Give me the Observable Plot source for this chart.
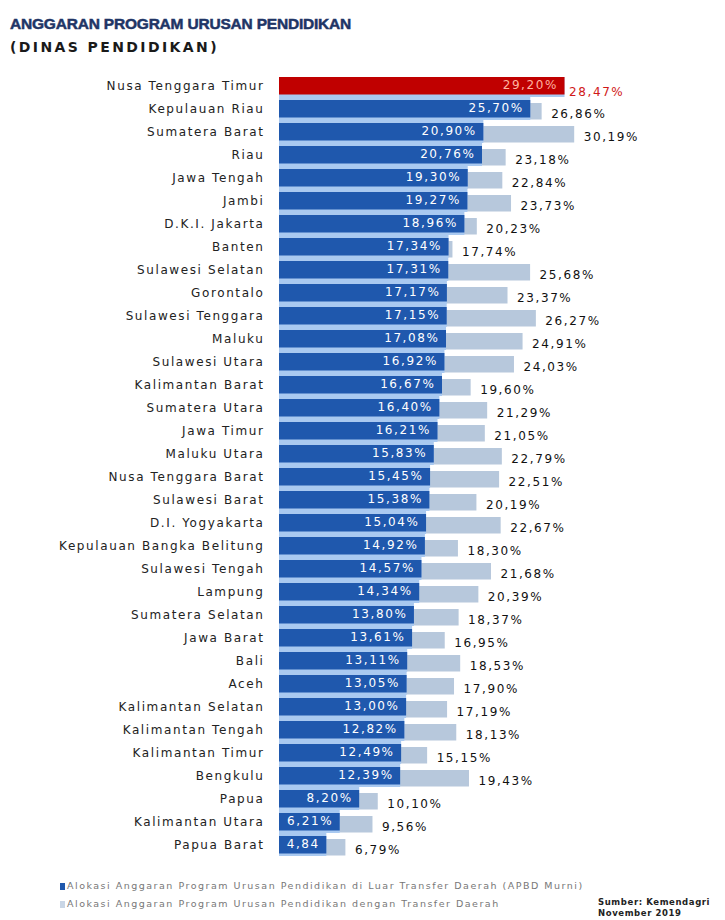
<!DOCTYPE html>
<html>
<head>
<meta charset="utf-8">
<script src="https://cdn.jsdelivr.net/npm/d3@7"></script>
<script src="https://cdn.jsdelivr.net/npm/@observablehq/plot@0.6"></script>
<style>
  html, body { margin: 0; padding: 0; background: #fff; }
  #wrap { position: relative; width: 725px; height: 920px; overflow: hidden; background: #fff; }
  .t { position: absolute; white-space: nowrap; }
  #title { left: 10px; top: 16px; font: bold 15.5px/16px "Liberation Sans", Arial, sans-serif; color: #1f3566; letter-spacing: -0.2px; -webkit-text-stroke: 0.5px #1f3566; }
  #subtitle { left: 10px; top: 39px; font: bold 14px/16px "DejaVu Sans", sans-serif; color: #1a1a1a; letter-spacing: 2.4px; }
  #chart { position: absolute; left: 0; top: 60px; }
  .leg { left: 60px; font: 9.5px/12px "DejaVu Sans", sans-serif; color: #777; letter-spacing: 1.5px; }
  .sw { display: inline-block; width: 5px; height: 7px; margin-right: 2px; vertical-align: -0.5px; }
  .src { left: 598px; font: bold 8.5px/11px "DejaVu Sans", sans-serif; color: #222; letter-spacing: 0.6px; }
</style>
</head>
<body>
<div id="wrap">
  <div class="t" id="title">ANGGARAN PROGRAM URUSAN PENDIDIKAN</div>
  <div class="t" id="subtitle">(DINAS PENDIDIKAN)</div>
  <div id="chart"></div>
  <div class="t leg" style="top:880px"><span class="sw" style="background:#1f58ad"></span>Alokasi Anggaran Program Urusan Pendidikan di Luar Transfer Daerah (APBD Murni)</div>
  <div class="t leg" style="top:898px"><span class="sw" style="background:#c9d6e6"></span>Alokasi Anggaran Program Urusan Pendidikan dengan Transfer Daerah</div>
  <div class="t src" style="top:897px">Sumber: Kemendagri</div>
  <div class="t src" style="top:908px">November 2019</div>
</div>
<script>
const categories = [
  "Nusa Tenggara Timur", "Kepulauan Riau", "Sumatera Barat", "Riau", "Jawa Tengah",
  "Jambi", "D.K.I. Jakarta", "Banten", "Sulawesi Selatan", "Gorontalo",
  "Sulawesi Tenggara", "Maluku", "Sulawesi Utara", "Kalimantan Barat", "Sumatera Utara",
  "Jawa Timur", "Maluku Utara", "Nusa Tenggara Barat", "Sulawesi Barat", "D.I. Yogyakarta",
  "Kepulauan Bangka Belitung", "Sulawesi Tengah", "Lampung", "Sumatera Selatan", "Jawa Barat",
  "Bali", "Aceh", "Kalimantan Selatan", "Kalimantan Tengah", "Kalimantan Timur",
  "Bengkulu", "Papua", "Kalimantan Utara", "Papua Barat"
];
const apbdMurni = [
  29.20, 25.70, 20.90, 20.76, 19.30,
  19.27, 18.96, 17.34, 17.31, 17.17,
  17.15, 17.08, 16.92, 16.67, 16.40,
  16.21, 15.83, 15.45, 15.38, 15.04,
  14.92, 14.57, 14.34, 13.80, 13.61,
  13.11, 13.05, 13.00, 12.82, 12.49,
  12.39, 8.20, 6.21, 4.84
];
const denganTransfer = [
  28.47, 26.86, 30.19, 23.18, 22.84,
  23.73, 20.23, 17.74, 25.68, 23.37,
  26.27, 24.91, 24.03, 19.60, 21.29,
  21.05, 22.79, 22.51, 20.19, 22.67,
  18.30, 21.68, 20.39, 18.37, 16.95,
  18.53, 17.90, 17.19, 18.13, 15.15,
  19.43, 10.10, 9.56, 6.79
];
const highlight = "Nusa Tenggara Timur";

const rows = categories.map((name, i) => ({name, a: apbdMurni[i], b: denganTransfer[i], hi: name === highlight}));
const f2 = d3.format(".2f");
const pct = v => f2(v).replace(".", ",") + "%";
// the narrowest bar hides the percent sign in the reference
const inLabel = v => v < 5 ? f2(v).replace(".", ",") : pct(v);

const normal = rows.filter(d => !d.hi);
const top1 = rows.filter(d => d.hi);

const chart = Plot.plot({
  width: 725,
  height: 808,
  marginLeft: 279,
  marginRight: 6,
  marginTop: 5,
  marginBottom: 4,
  style: {fontFamily: "'DejaVu Sans', sans-serif", fontSize: "12px", letterSpacing: "1.6px", background: "#fff", color: "#222"},
  x: {domain: [0, 45], axis: null},
  y: {domain: categories, padding: 0, axis: null},
  marks: [
    Plot.barX(rows, {x: "b", y: "name", fill: "#b7c8dc", insetTop: 6, insetBottom: 0.5}),
    Plot.barX(normal, {x: "a", y: "name", fill: "#a9c9f0"}),
    Plot.barX(top1, {x: "a", y: "name", fill: "#a9c9f0", insetTop: 3}),
    Plot.barX(normal, {x: "a", y: "name", fill: "#1f58ad", insetTop: 3, insetBottom: 2.5}),
    Plot.barX(top1, {x: "a", y: "name", fill: "#c00000", insetTop: 3, insetBottom: 2.5}),
    Plot.text(normal, {x: "a", y: "name", text: d => inLabel(d.a), textAnchor: "end", dx: -7, dy: -1, fill: "#ffffff", fontSize: 12}),
    Plot.text(top1, {x: "a", y: "name", text: d => inLabel(d.a), textAnchor: "end", dx: -7, dy: -1, fill: "#ffb4a2", fontSize: 12}),
    Plot.text(normal, {x: d => Math.max(d.a, d.b), y: "name", text: d => pct(d.b), textAnchor: "start", dx: 9, dy: 5.5, fill: "#111", fontSize: 12}),
    Plot.text(top1, {x: d => Math.max(d.a, d.b), y: "name", text: d => pct(d.b), textAnchor: "start", dx: 4, dy: 6.5, fill: "#d01818", fontSize: 12}),
    Plot.axisY({tickSize: 0, tickPadding: 15, fontSize: 12, label: null, fill: "#222"})
  ]
});
document.getElementById("chart").appendChild(chart);
</script>
</body>
</html>
